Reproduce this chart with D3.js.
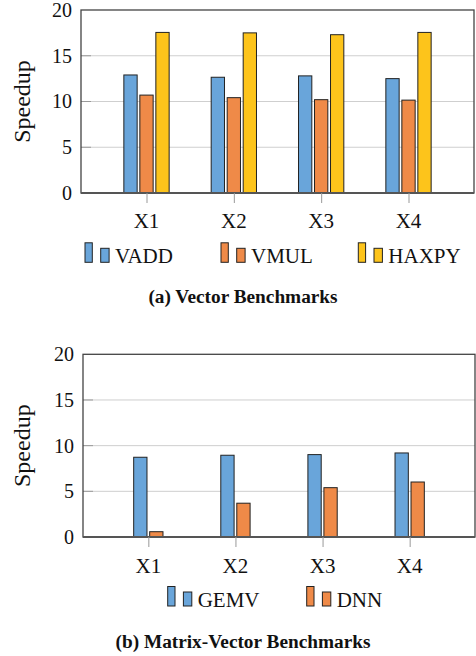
<!DOCTYPE html>
<html>
<head>
<meta charset="utf-8">
<script src="https://cdn.jsdelivr.net/npm/d3@7"></script>
<style>
  body { margin: 0; background: #fff; }
  svg text { font-family: "Liberation Serif", "Times New Roman", serif; }
</style>
</head>
<body>
<div id="chart"></div>
<script>
// data
const categories = ["X1", "X2", "X3", "X4"];
const yTicks = [0, 5, 10, 15, 20];

const vectorSeries = ["VADD", "VMUL", "HAXPY"];
const vadd = [12.9, 12.65, 12.8, 12.5];
const vmul = [10.7, 10.42, 10.2, 10.15];
const haxpy = [17.55, 17.5, 17.3, 17.55];

const matrixSeries = ["GEMV", "DNN"];
const gemv = [8.73, 8.95, 9.02, 9.2];
const dnn = [0.58, 3.7, 5.4, 6.02];

const colors = { VADD: "#69a5da", VMUL: "#ef8a48", HAXPY: "#fdc41b", GEMV: "#69a5da", DNN: "#ef8a48" };

const svg = d3.select("#chart").append("svg")
  .attr("width", 476)
  .attr("height", 656);

const renderPanel = (opts) => {
  const { left, right, top, bottom, series, values, legendX, legendY, caption, captionY, labelY } = opts;
  const g = svg.append("g");

  const x = d3.scalePoint().domain(categories).range([left, right]).padding(0.75);
  const y = d3.scaleLinear().domain([0, 20]).range([bottom, top]);

  // grid lines
  g.append("g").selectAll("line")
    .data(yTicks.filter((d) => d > 0 && d < 20))
    .enter().append("line")
    .attr("x1", left).attr("x2", right)
    .attr("y1", (d) => y(d)).attr("y2", (d) => y(d))
    .attr("stroke", "#cfcfcf").attr("stroke-width", 1);

  // inner y ticks
  g.append("g").selectAll("line")
    .data(yTicks.filter((d) => d > 0 && d < 20))
    .enter().append("line")
    .attr("x1", left).attr("x2", left + 10)
    .attr("y1", (d) => y(d)).attr("y2", (d) => y(d))
    .attr("stroke", "#9a9a9a").attr("stroke-width", 1);

  // bars
  const barW = 13.3, step = 16;
  const n = series.length;
  series.forEach((s, si) => {
    const off = (si - (n - 1) / 2) * step;
    g.append("g").selectAll("rect")
      .data(values[si])
      .enter().append("rect")
      .attr("x", (d, i) => x(categories[i]) + off - barW / 2)
      .attr("y", (d) => y(d))
      .attr("width", barW)
      .attr("height", (d) => y(0) - y(d))
      .attr("fill", colors[s])
      .attr("stroke", "#222")
      .attr("stroke-width", 1);
  });

  // frame
  g.append("rect")
    .attr("x", left).attr("y", top)
    .attr("width", right - left).attr("height", bottom - top)
    .attr("fill", "none").attr("stroke", "#444").attr("stroke-width", 1.3);
  g.append("line")
    .attr("x1", left).attr("x2", right)
    .attr("y1", bottom).attr("y2", bottom)
    .attr("stroke", "#555").attr("stroke-width", 2);

  // x axis ticks and labels
  const xAxis = g.append("g")
    .attr("transform", "translate(0," + bottom + ")")
    .call(d3.axisBottom(x).tickSize(10).tickPadding(0));
  xAxis.select(".domain").remove();
  xAxis.selectAll(".tick line").attr("stroke", "#999");
  xAxis.selectAll(".tick text").remove();
  g.append("g").selectAll("text")
    .data(categories)
    .enter().append("text")
    .attr("x", (d) => x(d))
    .attr("y", labelY)
    .attr("text-anchor", "middle")
    .attr("font-size", 21)
    .attr("fill", "#111")
    .text((d) => d);

  // y axis labels
  const yAxis = g.append("g")
    .attr("transform", "translate(" + left + ",0)")
    .call(d3.axisLeft(y).tickValues(yTicks).tickSize(0).tickPadding(9));
  yAxis.select(".domain").remove();
  yAxis.selectAll(".tick text")
    .attr("font-size", 20)
    .attr("fill", "#111");

  // y axis title
  g.append("text")
    .attr("transform", "translate(30," + (top + bottom) / 2 + ") rotate(-90)")
    .attr("text-anchor", "middle")
    .attr("font-size", 24)
    .attr("fill", "#111")
    .text("Speedup");

  // legend
  series.forEach((s, si) => {
    const lx = legendX[si];
    const lg = g.append("g").attr("transform", "translate(" + lx + "," + legendY + ")");
    lg.append("rect").attr("x", 0).attr("y", -19.5).attr("width", 7.3).attr("height", 19.5)
      .attr("fill", colors[s]).attr("stroke", "#222").attr("stroke-width", 1);
    lg.append("rect").attr("x", 15.7).attr("y", -14).attr("width", 8.4).attr("height", 14)
      .attr("fill", colors[s]).attr("stroke", "#222").attr("stroke-width", 1);
    lg.append("text").attr("x", 30).attr("y", 1)
      .attr("font-size", 21).attr("fill", "#111")
      .text(s);
  });

  // caption
  g.append("text")
    .attr("x", 243).attr("y", captionY)
    .attr("text-anchor", "middle")
    .attr("font-size", 19.3)
    .attr("font-weight", "bold")
    .attr("fill", "#111")
    .text(caption);
};

renderPanel({
  left: 81, right: 474, top: 10, bottom: 193,
  series: vectorSeries, values: [vadd, vmul, haxpy],
  legendX: [85, 221, 358.3], legendY: 262.3,
  caption: "(a) Vector Benchmarks", captionY: 303, labelY: 228
});

renderPanel({
  left: 83, right: 475, top: 354.3, bottom: 537,
  series: matrixSeries, values: [gemv, dnn],
  legendX: [167.7, 306.7], legendY: 606,
  caption: "(b) Matrix-Vector Benchmarks", captionY: 648, labelY: 573
});
</script>
</body>
</html>
